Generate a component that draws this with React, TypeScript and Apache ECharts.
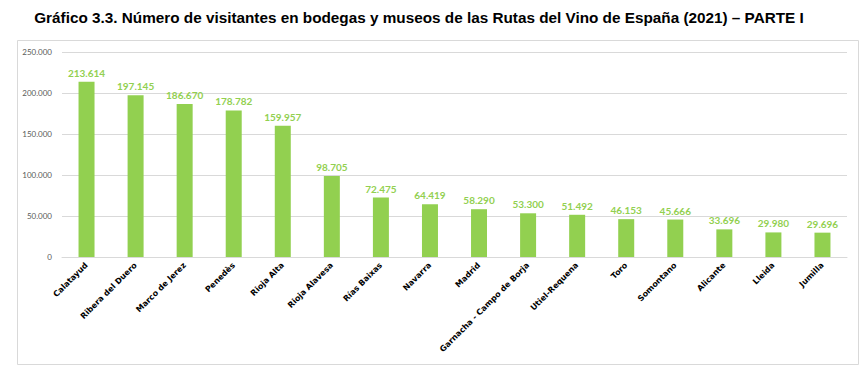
import React, { useEffect, useRef } from "react";
import * as echarts from "echarts";

const titleText =
  "Gráfico 3.3. Número de visitantes en bodegas y museos de las Rutas del Vino de España (2021) – PARTE I";

const categories = [
  "Calatayud",
  "Ribera del Duero",
  "Marco de Jerez",
  "Penedès",
  "Rioja Alta",
  "Rioja Alavesa",
  "Rías Baixas",
  "Navarra",
  "Madrid",
  "Garnacha - Campo de Borja",
  "Utiel-Requena",
  "Toro",
  "Somontano",
  "Alicante",
  "Lleida",
  "Jumilla",
];

const visitors = [
  213614, 197145, 186670, 178782, 159957, 98705, 72475, 64419, 58290, 53300,
  51492, 46153, 45666, 33696, 29980, 29696,
];

const yTicks = { min: 0, max: 250000, interval: 50000 };

const fmt = (v: number) =>
  String(Math.round(v)).replace(/\B(?=(\d{3})+(?!\d))/g, ".");

export default function App() {
  const ref = useRef<HTMLDivElement>(null);
  useEffect(() => {
    if (!ref.current) return;
    const chart = echarts.init(ref.current, null, { renderer: "svg" });
    chart.setOption({
      animation: false,
      backgroundColor: "#ffffff",
      graphic: [
        {
          type: "text",
          x: 419,
          y: 17,
          style: {
            text: titleText,
            textAlign: "center",
            textVerticalAlign: "middle",
            font: "bold 15.3px 'Liberation Sans Narrow', 'Liberation Sans', sans-serif",
            fill: "#000000",
          },
        },
        {
          type: "rect",
          shape: { x: 17.5, y: 40.5, width: 841, height: 324 },
          style: { fill: "none", stroke: "#d9d9d9", lineWidth: 1 },
          silent: true,
        },
      ],
      grid: { left: 62, right: 20, top: 52, bottom: 118 },
      xAxis: {
        type: "category",
        data: categories,
        axisTick: { show: false },
        axisLine: { lineStyle: { color: "#d9d9d9" } },
        axisLabel: {
          interval: 0,
          rotate: 45,
          margin: 7,
          color: "#000000",
          fontFamily: "'DejaVu Sans', Verdana, sans-serif",
          fontWeight: "bold",
          fontSize: 8,
        },
      },
      yAxis: {
        type: "value",
        min: yTicks.min,
        max: yTicks.max,
        interval: yTicks.interval,
        axisLine: { show: false },
        axisTick: { show: false },
        splitLine: { lineStyle: { color: "#d9d9d9" } },
        axisLabel: {
          color: "#595959",
          fontFamily: "Lato, sans-serif",
          fontSize: 8,
          margin: 10,
          formatter: (v: number) => fmt(v),
        },
      },
      series: [
        {
          type: "bar",
          data: visitors,
          barWidth: 16,
          itemStyle: { color: "#92d050" },
          label: {
            show: true,
            position: "top",
            distance: 4,
            color: "#92d050",
            fontFamily: "Lato, sans-serif",
            fontWeight: "bold",
            fontSize: 10,
            formatter: (p: any) => fmt(p.value),
          },
        },
      ],
    });
    return () => chart.dispose();
  }, []);
  return (
    <div
      ref={ref}
      style={{ position: "fixed", left: 0, top: 0, width: 867, height: 375 }}
    />
  );
}
